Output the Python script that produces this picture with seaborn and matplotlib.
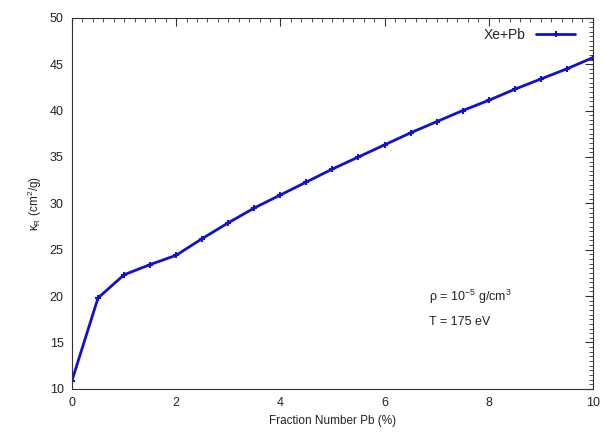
import numpy as np
import pandas as pd
import matplotlib as mpl
mpl.use("Agg")
import matplotlib.pyplot as plt
import seaborn as sns
from matplotlib.ticker import MultipleLocator

fraction_pb = [0, 0.5, 1, 1.5, 2, 2.5, 3, 3.5, 4, 4.5, 5,
               5.5, 6, 6.5, 7, 7.5, 8, 8.5, 9, 9.5, 10]
kappa_r = [10.9, 19.8, 22.3, 23.4, 24.4, 26.2, 27.9, 29.5, 30.9, 32.3, 33.7,
           35.0, 36.3, 37.6, 38.8, 40.0, 41.1, 42.3, 43.4, 44.5, 45.7]
series_name = "Xe+Pb"

if __name__ == "__main__":
    sns.set_theme(style="white", context="paper")
    plt.rcParams["font.family"] = ["Liberation Sans", "DejaVu Sans"]
    plt.rcParams["mathtext.fontset"] = "custom"
    plt.rcParams["mathtext.rm"] = "Liberation Sans"
    plt.rcParams["mathtext.it"] = "Liberation Sans"

    line_color = "#1010d0"
    df = pd.DataFrame({"x": fraction_pb, "y": kappa_r, "series": series_name})

    fig = plt.figure(figsize=(6.05, 4.34), dpi=100)
    ax = fig.add_axes([0.119, 0.104, 0.861, 0.855])
    sns.lineplot(data=df, x="x", y="y", hue="series", palette=[line_color],
                 marker="+", markersize=5, markeredgewidth=1.5,
                 markeredgecolor=line_color, linewidth=2, ax=ax)

    ax.set_xlim(0, 10)
    ax.set_ylim(10, 50)
    ax.xaxis.set_major_locator(MultipleLocator(2))
    ax.xaxis.set_minor_locator(MultipleLocator(0.2))
    ax.yaxis.set_major_locator(MultipleLocator(5))
    ax.yaxis.set_minor_locator(MultipleLocator(0.5))
    ax.tick_params(which="both", direction="in", top=True, right=True,
                   color="#333333", labelsize=9, labelcolor="#222222")
    ax.tick_params(which="major", length=6, width=0.8, pad=6)
    ax.tick_params(which="minor", length=3, width=0.6)
    for sp in ax.spines.values():
        sp.set_color("#333333")
        sp.set_linewidth(0.8)

    ax.set_xlabel("Fraction Number Pb (%)", fontsize=8.5, color="#222222")
    ax.set_ylabel(r"$\kappa_R$ (cm$^2$/g)", fontsize=8.5, color="#222222")

    ax.text(6.85, 19.9, r"$\rho$ = 10$^{-5}$ g/cm$^3$", fontsize=9,
            color="#222222", va="center")
    ax.text(6.85, 17.2, "T = 175 eV", fontsize=9, color="#222222", va="center")

    handles, labels = ax.get_legend_handles_labels()
    ax.legend(handles, labels, loc="upper right", frameon=False, fontsize=10,
              markerfirst=False, handlelength=2.8, borderaxespad=0.3,
              bbox_to_anchor=(0.985, 1.0))

    fig.savefig("out.png", dpi=100)
